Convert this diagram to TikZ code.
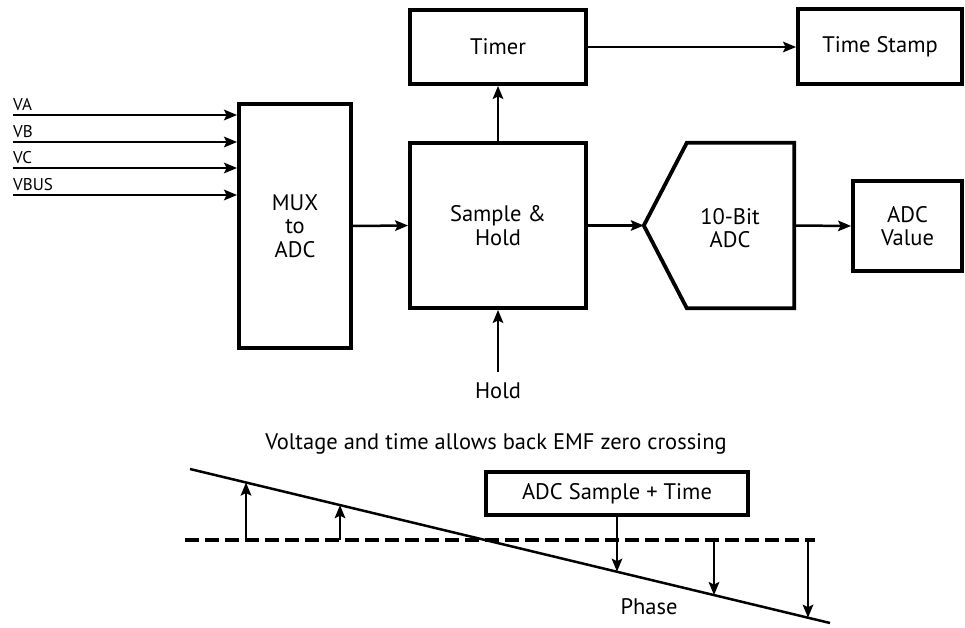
\documentclass[tikz,border=0pt]{standalone}
\usepackage{fontspec}
\setmainfont{PT Sans}
\usetikzlibrary{arrows.meta,calc}
\begin{document}
\begin{tikzpicture}[x=1pt,y=-1pt,
  blk/.style={draw,line width=3.8pt,inner sep=0pt,align=center,font=\fontsize{22.5}{23.5}\selectfont},
  lbl/.style={inner sep=0pt,font=\fontsize{22.5}{23.5}\selectfont},
  inlbl/.style={inner sep=0pt,anchor=base west,font=\fontsize{17}{18}\selectfont},
  conn/.style={line width=2.5pt,-{Stealth[length=13pt,width=10.5pt,inset=2.5pt]}},
  wave/.style={line width=2.5pt},
  zero/.style={line width=3.6pt,dash pattern=on 14pt off 6pt}]
\useasboundingbox (0,0) rectangle (965,628);

% --- block diagram ---
\node[blk,minimum width=176,minimum height=74] (timer) at (498,47) {Timer};
\node[blk,minimum width=164,minimum height=75] (stamp) at (880,46.5) {Time Stamp};
\node[blk,minimum width=112,minimum height=244] (mux) at (295,226) {MUX\\to\\ADC};
\node[blk,minimum width=176,minimum height=165] (sh) at (498,225.5) {Sample \&\\Hold};
\node[blk,minimum width=109,minimum height=90] (val) at (907.5,226) {ADC\\Value};

% 10-bit converter: pointed input side
\node[inner sep=0pt,minimum width=150,minimum height=165] (adc) at (719,225.5) {};
\draw[line width=3.8pt,line join=miter]
  (adc.west) -- ($(adc.north west)+(43,0)$) -- (adc.north east)
  -- (adc.south east) -- ($(adc.south west)+(43,0)$) -- cycle;
\node[lbl,align=center] (adctxt) at (730,228) {10-Bit\\ADC};

% analog inputs
\foreach \n/\t/\y in {va/VA/115,vb/VB/142,vc/VC/168,vbus/VBUS/195}{
  \coordinate (\n) at (13,\y);
  \node[inlbl] (\n txt) at (13,\y-4) {\t};
  \draw[conn] (\n) -- (mux.west |- \n);
}

\draw[conn] (mux.east) -- (sh.west);
\draw[conn] (sh.east |- adc.west) -- (adc.west);
\draw[conn] (adc.east) -- (val.west);
\draw[conn] (sh.north) -- (timer.south);
\draw[conn] (timer.east) -- (stamp.west |- timer.east);

\node[lbl] (hold) at (498,391) {Hold};
\coordinate (holdtop) at (498,372);
\draw[conn] (holdtop) -- (sh.south);

% --- zero crossing sketch ---
\node[lbl] (caption) at (496,444) {Voltage and time allows back EMF zero crossing};

\coordinate (s1) at (190,469);
\coordinate (s2) at (830,623);
\draw[wave] (s1) -- (s2);
\coordinate (d1) at (185,540);
\coordinate (d2) at (815,540);
\draw[zero] (d1) -- (d2);

\node[blk,line width=3.6pt,minimum width=262,minimum height=43] (sample) at (617,493.5) {ADC Sample + Time};

\coordinate (p1) at (246,482.5);
\coordinate (p2) at (340,505.1);
\coordinate (p3) at (617,571.7);
\coordinate (p4) at (714,595.1);
\coordinate (p5) at (808,617.7);

\draw[conn] (d1 -| p1) -- (p1);
\draw[conn] (d1 -| p2) -- (p2);
\draw[conn] (sample.south) -- (p3);
\draw[conn] (d1 -| p4) -- (p4);
\draw[conn] (d1 -| p5) -- (p5);

\node[lbl] (phase) at (649,607) {Phase};
\end{tikzpicture}
\end{document}
